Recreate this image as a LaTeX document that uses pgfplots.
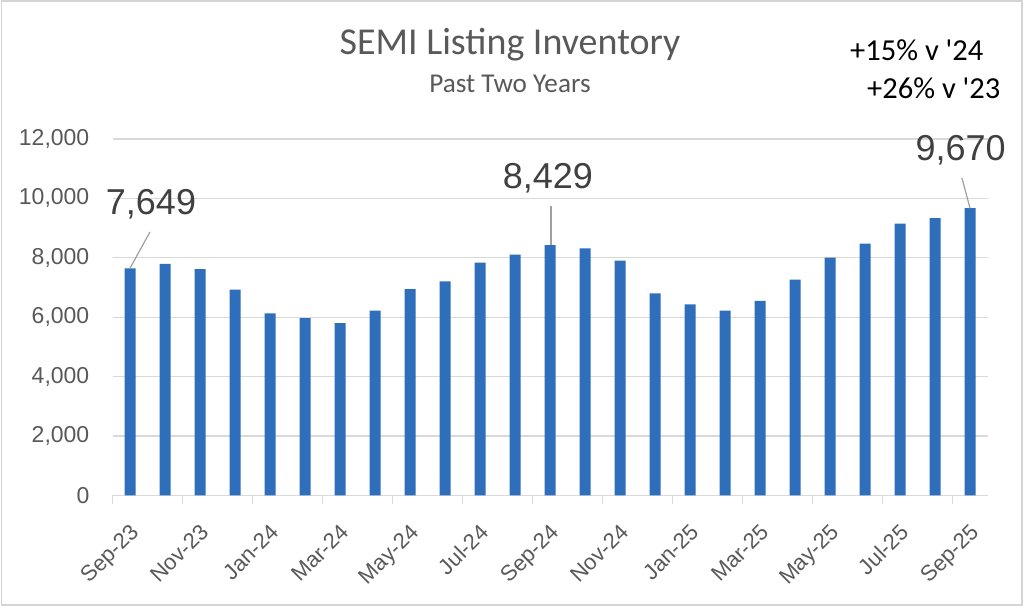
\documentclass[border=0pt]{standalone}
\usepackage{pgfplots}
\pgfplotsset{compat=1.18}
\usepackage{fontspec}
\setmainfont{Liberation Sans}
\newfontfamily\carlito{Carlito}
\definecolor{barblue}{RGB}{47,110,186}
\definecolor{txtgray}{RGB}{89,89,89}
\definecolor{lblgray}{RGB}{64,64,64}
\definecolor{gridgray}{RGB}{217,217,217}
\definecolor{framegray}{RGB}{212,212,212}
\definecolor{leadgray}{RGB}{160,160,160}
\begin{document}
\begin{tikzpicture}
\useasboundingbox (0pt,0pt) rectangle (1024pt,607pt);
\fill[white] (0pt,0pt) rectangle (1024pt,607pt);
\draw[framegray, line width=1.5pt] (1.5pt,2pt) rectangle (1022pt,606pt);
\begin{axis}[
  at={(112.5pt,111.5pt)}, anchor=south west,
  scale only axis, width=875pt, height=356.5pt,
  xmin=-0.5, xmax=24.5, ymin=0, ymax=12000,
  ybar, bar width=11pt,
  separate axis lines,
  axis x line*=bottom, axis y line*=left,
  x axis line style={gridgray, line width=1.3pt},
  y axis line style={draw=none},
  ymajorgrids, grid style={gridgray, line width=1.3pt},
  ytick={0,2000,...,12000},
  scaled y ticks=false,
  /pgf/number format/assume math mode=true,
  /pgf/number format/1000 sep={,},
  ytick style={draw=none},
  yticklabel style={font=\fontsize{23}{27}\selectfont, text=txtgray, anchor=east, inner sep=0pt, xshift=-15pt},
  xtick={-0.5,1.5,...,23.5},
  xticklabels={},
  xtick style={draw=gridgray, line width=1.3pt},
  tick align=outside,
  major tick length=8pt,
  extra x ticks={0,2,...,24},
  extra x tick labels={Sep-23,Nov-23,Jan-24,Mar-24,May-24,Jul-24,Sep-24,Nov-24,Jan-25,Mar-25,May-25,Jul-25,Sep-25},
  extra x tick style={major tick length=0pt, grid=none},
  xticklabel style={font=\fontsize{22}{26}\selectfont, text=txtgray, inner sep=0pt, xshift=-1pt, yshift=-27pt, rotate=45, anchor=north east},
  clip=false,
]
\addplot[fill=barblue, draw=none] coordinates {
(0,7649) (1,7800) (2,7620) (3,6930) (4,6130) (5,5970) (6,5800) (7,6220) (8,6950) (9,7210) (10,7840) (11,8110) (12,8429)
(13,8320) (14,7910) (15,6800) (16,6430) (17,6220) (18,6550) (19,7270) (20,8010) (21,8480) (22,9150) (23,9340) (24,9670)};
\draw[leadgray, line width=1.2pt] (axis cs:0.57,8870) -- (axis cs:0,7649);
\draw[leadgray, line width=1.2pt] (axis cs:12.03,9745) -- (axis cs:12.03,8429);
\draw[leadgray, line width=1.2pt] (axis cs:23.77,10687) -- (axis cs:24,9670);
\node[font=\fontsize{36}{40}\selectfont, text=lblgray, inner sep=0pt] at (axis cs:0.6,9812) {7,649};
\node[font=\fontsize{36}{40}\selectfont, text=lblgray, inner sep=0pt] at (axis cs:11.94,10687) {8,429};
\node[font=\fontsize{36}{40}\selectfont, text=lblgray, inner sep=0pt] at (axis cs:23.73,11613) {9,670};
\end{axis}
\node[anchor=base, font=\carlito\fontsize{38}{44}\selectfont, text=txtgray, inner sep=0pt] at (510pt,552pt) {SEMI Listing Inventory};
\node[anchor=base, font=\carlito\fontsize{27.2}{32}\selectfont, text=txtgray, inner sep=0pt] at (510pt,514pt) {Past Two Years};
\node[anchor=base west, font=\carlito\fontsize{30.5}{34}\selectfont, text=black, inner sep=0pt] at (850pt,546pt) {+15\% v '24};
\node[anchor=base west, font=\carlito\fontsize{30.5}{34}\selectfont, text=black, inner sep=0pt] at (867pt,508pt) {+26\% v '23};
\end{tikzpicture}
\end{document}
